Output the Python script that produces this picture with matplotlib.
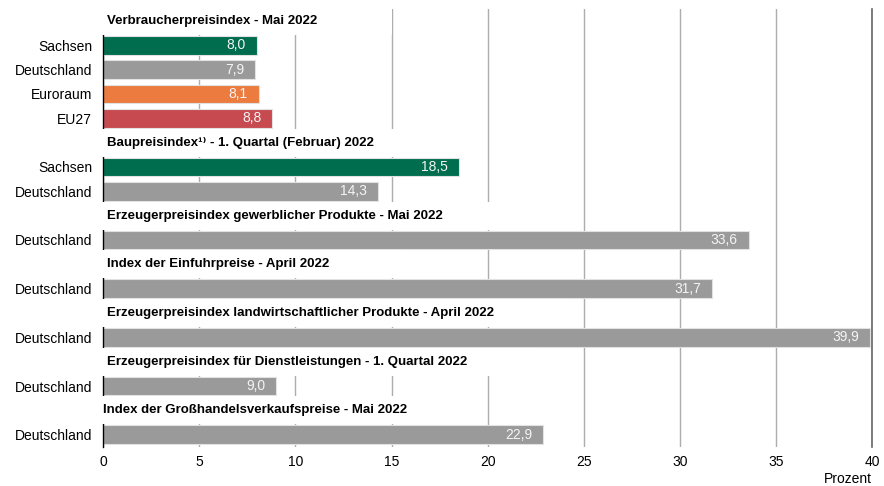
import matplotlib
matplotlib.use('Agg')
import matplotlib.pyplot as plt
from matplotlib.patches import Rectangle

plt.rcParams['font.family'] = ['Liberation Sans', 'DejaVu Sans']

headers = ['Verbraucherpreisindex - Mai 2022',
           'Baupreisindex\u00b9\u207e - 1. Quartal (Februar) 2022',
           'Erzeugerpreisindex gewerblicher Produkte - Mai 2022',
           'Index der Einfuhrpreise - April 2022',
           'Erzeugerpreisindex landwirtschaftlicher Produkte - April 2022',
           'Erzeugerpreisindex für Dienstleistungen - 1. Quartal 2022',
           'Index der Großhandelsverkaufspreise - Mai 2022']
group_sizes = [4, 2, 1, 1, 1, 1, 1]
labels = ['Sachsen', 'Deutschland', 'Euroraum', 'EU27',
          'Sachsen', 'Deutschland',
          'Deutschland', 'Deutschland', 'Deutschland', 'Deutschland', 'Deutschland']
values = [8.0, 7.9, 8.1, 8.8, 18.5, 14.3, 33.6, 31.7, 39.9, 9.0, 22.9]
colors = ['#006e4e', '#9a9a9a', '#ec7b3f', '#c64a50',
          '#006e4e', '#9a9a9a',
          '#9a9a9a', '#9a9a9a', '#9a9a9a', '#9a9a9a', '#9a9a9a']

# row layout: each group = header row + its bars
header_rows = []
bar_rows = []
row = 0
for n in group_sizes:
    header_rows.append(row)
    row += 1
    for _ in range(n):
        bar_rows.append(row)
        row += 1
n_rows = row

fig = plt.figure(figsize=(8.84, 4.86), dpi=100)
ax = fig.add_axes([0.1169, 0.0805, 0.9864 - 0.1169, 0.982 - 0.0805])

ax.barh(bar_rows, values, height=0.77, color=colors,
        edgecolor='#e2e2e2', linewidth=0.8, zorder=2)
for r, v in zip(bar_rows, values):
    ax.annotate(f'{v:.1f}'.replace('.', ','), (v, r), xytext=(-8, 0),
                textcoords='offset points', ha='right', va='center',
                fontsize=10, color='#f4f4f4', zorder=3)

ax.set_xlim(0, 40)
ax.set_ylim(n_rows - 0.5, -0.5)
ax.set_xticks(range(0, 41, 5))
ax.set_yticks(bar_rows)
ax.set_yticklabels(labels, fontsize=10)
ax.tick_params(axis='y', length=0, pad=8)
ax.tick_params(axis='x', length=0, pad=6, labelsize=10)
ax.set_axisbelow(True)
ax.grid(axis='x', color='#adadad', linewidth=1)
ax.grid(axis='y', visible=False)
for s in ['top', 'bottom']:
    ax.spines[s].set_visible(False)
ax.spines['left'].set_color('black')
ax.spines['left'].set_linewidth(1)
ax.spines['right'].set_color('#666666')
ax.spines['right'].set_linewidth(1.2)

fig.text(0.9864, 1 - 479 / 486, 'Prozent', ha='right', va='center', fontsize=10)

# section headers on white boxes that hide the grid behind them
texts = []
for i, (r, h) in enumerate(zip(header_rows, headers)):
    x0 = 0.0 if i == len(headers) - 1 else 0.2
    t = ax.text(x0, r, h, ha='left', va='center', fontsize=9.5,
                fontweight='bold', zorder=5)
    texts.append((r, t))
fig.canvas.draw()
inv = ax.transData.inverted()
for r, t in texts:
    bb = t.get_window_extent()
    x_end = inv.transform((bb.x1 + 75, 0))[0]
    ax.add_patch(Rectangle((-0.5, r - 0.575), x_end + 0.5, 1.15,
                           facecolor='white', edgecolor='none',
                           zorder=4, clip_on=False))

fig.savefig('out.png', dpi=100)
